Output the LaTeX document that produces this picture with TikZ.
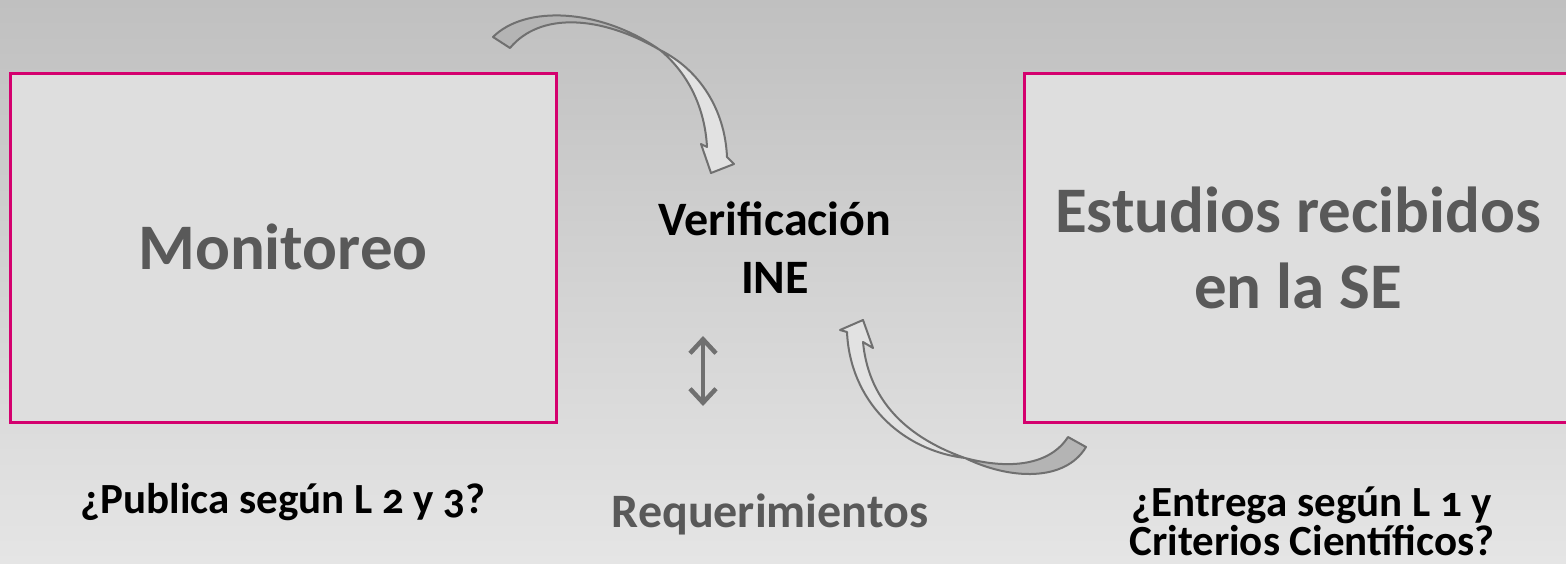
\documentclass[tikz,border=0pt]{standalone}
\usepackage{fontspec}
\setmainfont{Carlito}[Numbers=OldStyle]
\usetikzlibrary{arrows.meta}
\definecolor{bgtop}{RGB}{192,192,192}
\definecolor{bgbot}{RGB}{229,229,229}
\definecolor{boxfill}{RGB}{222,222,222}
\definecolor{boxline}{RGB}{212,0,110}
\definecolor{txtgray}{RGB}{89,89,89}
\definecolor{arrline}{RGB}{112,112,112}
\definecolor{arrdark}{RGB}{180,180,180}
\definecolor{arrlight}{RGB}{226,226,226}
\tikzset{
  panel/.style={draw=boxline, line width=3pt, fill=boxfill, inner sep=0pt},
  bigtxt/.style={anchor=base, text=txtgray, font=\fontsize{65}{76}\selectfont\bfseries, inner sep=0pt},
  midtxt/.style={anchor=base, text=black, font=\fontsize{48}{58}\selectfont\bfseries, inner sep=0pt},
  lowtxt/.style={anchor=base, text=black, font=\fontsize{43}{39}\selectfont\bfseries, inner sep=0pt},
  reqtxt/.style={anchor=base, text=txtgray, font=\fontsize{48}{58}\selectfont\bfseries, inner sep=0pt},
  blockdark/.style={draw=arrline, line width=2pt, fill=arrdark, line join=round},
  blocklight/.style={draw=arrline, line width=2pt, fill=arrlight, line join=round},
  dbl/.style={draw=arrline, line width=4.5pt, {Straight Barb[length=14pt,width=26pt]}-{Straight Barb[length=14pt,width=26pt]}}
}
\begin{document}
\begin{tikzpicture}[x=1pt,y=-1pt]
  \useasboundingbox (0,0) rectangle (1566,563);
  \clip (0,0) rectangle (1566,563);
  \shade[top color=bgtop, bottom color=bgbot] (0,0) rectangle (1566,563);

  % boxes
  \node (boxmon) [panel, minimum width=546pt, minimum height=349pt] at (283,247.5) {};
  \node (boxest) [panel, minimum width=548pt, minimum height=349pt] at (1298,247.5) {};

  % texts
  \node (mon) [bigtxt] at (283,269) {Monitoreo};
  \node (est1) [bigtxt] at (1298,232) {Estudios recibidos};
  \node (est2) [bigtxt] at (1298,308) {en la SE};
  \node (ver1) [midtxt] at (775,235) {Verificación};
  \node (ver2) [midtxt] at (775,293) {INE};
  \node (pub) [lowtxt] at (283,513) {¿Publica según L 2 y 3?};
  \node (req) [reqtxt] at (770,527) {Requerimientos};
  \node (ent1) [lowtxt] at (1312,516) {¿Entrega según L 1 y};
  \node (ent2) [lowtxt] at (1312,555) {Criterios Científicos?};

  % top curved arrow (tail part, then head part)
  \draw[blockdark] (493,37) .. controls (525,5) and (600,8) .. (660,50)
        .. controls (600,15) and (540,12) .. (510,48) -- cycle;
  \draw[blocklight] (660,50) .. controls (690,75) and (705,110) .. (707,147)
        -- (701,144) -- (711,173) -- (734,164) -- (727,157)
        .. controls (725,110) and (700,70) .. (660,50) -- cycle;

  % bottom curved arrow
  \draw[blockdark] (1068,437) .. controls (1050,465) and (1010,470) .. (965,458)
        .. controls (1010,480) and (1065,482) .. (1086,447) -- cycle;
  \draw[blocklight] (965,458) .. controls (900,435) and (868,395) .. (863,342)
        -- (873,348) -- (863,320) -- (840,330) -- (847,332)
        .. controls (850,400) and (900,450) .. (965,458) -- cycle;

  % double arrow
  \coordinate (dtop) at (703,336);
  \coordinate (dbot) at (703,406);
  \draw[dbl] (dtop) -- (dbot);
\end{tikzpicture}
\end{document}
